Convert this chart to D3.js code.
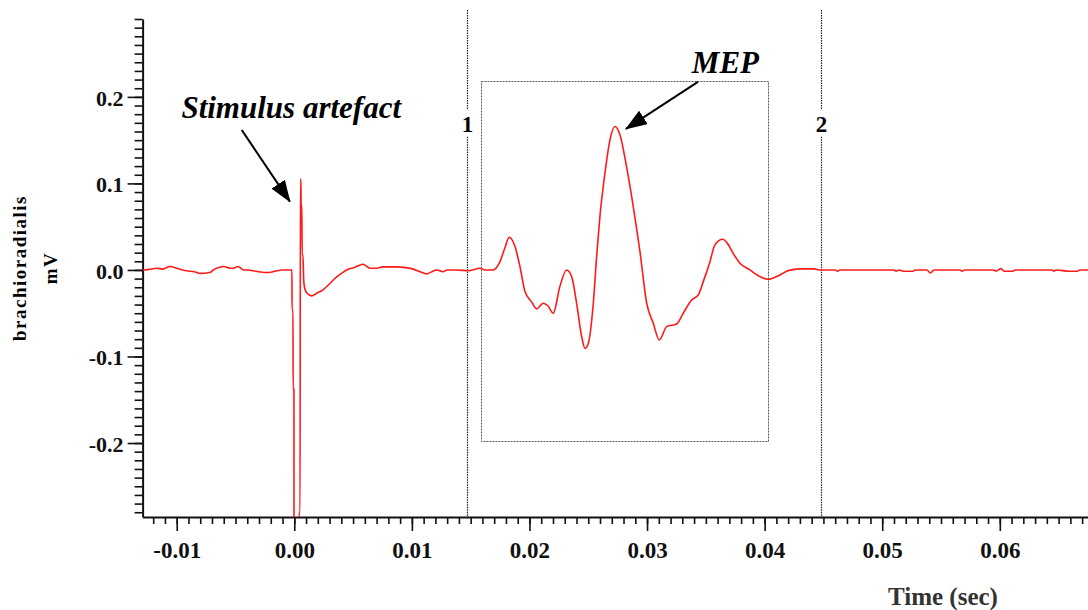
<!DOCTYPE html>
<html>
<head>
<meta charset="utf-8">
<script src="https://cdn.jsdelivr.net/npm/d3@7"></script>
<style>
  body { margin: 0; background: #fff; }
  svg { display: block; }
  text { font-family: "Liberation Serif", "Times New Roman", serif; }
  .tick text { font-weight: bold; fill: #111; }
  .axis path, .axis line { stroke: #111; }
</style>
</head>
<body>
<div id="chart"></div>
<script>
// signal (time in s, amplitude in mV)
var times = [
  -0.0129, -0.0128, -0.0122, -0.0117, -0.0112, -0.01057, -0.0100, -0.0095, -0.00915, -0.0085,
  -0.0080, -0.0072, -0.0069, -0.0066, -0.0060, -0.0055, -0.0052, -0.0048, -0.0043, -0.0039,
  -0.0035, -0.0030, -0.0024, -0.0018, -0.0015, -0.0010, -0.0006, -0.0002,
  -0.00019, -0.00011, -0.00010, -0.00003, -0.00002, 0.00040, 0.00041, 0.00049, 0.00052, 0.00056,
  0.00058, 0.00064, 0.00067, 0.00074, 0.00080, 0.00090, 0.00110, 0.00148, 0.00190, 0.00244,
  0.00300, 0.00360, 0.00410, 0.00446, 0.00516, 0.00582, 0.00644, 0.00700, 0.00754, 0.00871,
  0.00998, 0.01069, 0.01126, 0.01170, 0.01211, 0.01264, 0.01300, 0.01381, 0.01480, 0.01579,
  0.01620, 0.01692, 0.01749, 0.01790, 0.01828, 0.01877, 0.01919, 0.01962, 0.02019, 0.02061,
  0.02117, 0.02160, 0.02202, 0.02259, 0.02316, 0.02359, 0.02401, 0.02444, 0.02472, 0.02500,
  0.02543, 0.02571, 0.02599, 0.02642, 0.02684, 0.02727, 0.02770, 0.02826, 0.02883, 0.02940,
  0.02997, 0.03053, 0.03104, 0.03167, 0.03252, 0.03308, 0.03379, 0.03435, 0.03478, 0.03535,
  0.03577, 0.03643, 0.03682, 0.03733, 0.03790, 0.03875, 0.03960, 0.04031, 0.04130, 0.04200,
  0.04299, 0.04413, 0.04485,
  0.0460, 0.0462, 0.0464, 0.0510, 0.0512, 0.0514, 0.0518, 0.0526, 0.0528, 0.0538,
  0.0541, 0.0544, 0.0566, 0.0568, 0.0570, 0.0594, 0.0597, 0.0601, 0.0604, 0.0611,
  0.0613, 0.0644, 0.0646, 0.0648, 0.0659, 0.0666, 0.0668, 0.0676
];
var volts = [
  0.000, 0.000, 0.001, 0.002, 0.001, 0.004, 0.002, 0.000, -0.001, -0.002,
  -0.004, -0.003, 0.000, 0.002, 0.004, 0.002, 0.002, 0.004, 0.000, 0.000,
  -0.001, -0.002, -0.003, -0.002, -0.001, 0.000, 0.000, 0.000,
  -0.046, -0.046, -0.138, -0.138, -0.350, -0.350, -0.280, -0.280, 0.105, 0.105,
  0.075, 0.075, 0.017, 0.017, -0.012, -0.022, -0.027, -0.030, -0.027, -0.023,
  -0.016, -0.008, -0.003, 0.000, 0.003, 0.0066, 0.002, 0.002, 0.0035, 0.0035,
  0.0015, -0.002, -0.0046, -0.002, 0.000, -0.002, 0.000, 0.000, -0.001, 0.002,
  0.000, 0.000, 0.0096, 0.025, 0.0378, 0.027, 0.004, -0.025, -0.037, -0.045,
  -0.0385, -0.042, -0.050, -0.019, 0.000, -0.0077, -0.0385, -0.077, -0.0906, -0.085,
  -0.0385, 0.0154, 0.0616, 0.1118, 0.150, 0.1657, 0.156, 0.119, 0.073, 0.021,
  -0.0385, -0.0616, -0.081, -0.0655, -0.0624, -0.050, -0.0347, -0.029, -0.0135, 0.0096,
  0.029, 0.0355, 0.031, 0.019, 0.0077, 0.000, -0.0077, -0.0108, -0.0058, -0.0008,
  0.0012, 0.0012, 0.000,
  0.000, -0.0015, 0.000, 0.000, -0.0015, 0.000, -0.0015, -0.0015, 0.000, 0.000,
  -0.0035, 0.000, 0.000, -0.0015, 0.000, 0.000, -0.0012, 0.0015, -0.0015, -0.0015,
  0.000, 0.000, -0.0012, 0.000, -0.0015, -0.0015, 0.000, 0.000
];

var xTicks = [-0.01, 0.00, 0.01, 0.02, 0.03, 0.04, 0.05, 0.06];
var yTicks = [-0.2, -0.1, 0.0, 0.1, 0.2];
var cursorTimes = [0.01471, 0.04479];
var cursorLabels = ["1", "2"];
var boxTimes = [0.0159, 0.0403];
var boxVolts = [-0.1977, 0.2185];

// annotation anchors in data units
var noteText = ["Stimulus artefact", "MEP"];
var noteAt = [[-0.00960, 0.1757], [0.03381, 0.2277]];
var arrowFrom = [[-0.00447, 0.1618], [0.03433, 0.2173]];
var arrowTo = [[-0.00037, 0.0790], [0.02820, 0.1630]];

var width = 1088, height = 610;
var plotLeft = 142.6, plotRight = 1088, plotTop = 19, plotBottom = 517;
var serif = "'Liberation Serif', 'Times New Roman', serif";

var svg = d3.select("#chart").append("svg")
    .attr("width", width)
    .attr("height", height);

var x = d3.scaleLinear().domain([-0.0129, 0.0675]).range([plotLeft, plotRight]);
var y = d3.scaleLinear().domain([-0.2855, 0.29]).range([plotBottom, plotTop]);

var defs = svg.append("defs");
defs.append("clipPath").attr("id", "plot")
  .append("rect")
    .attr("x", plotLeft).attr("y", plotTop)
    .attr("width", plotRight - plotLeft).attr("height", plotBottom - plotTop);

defs.append("marker")
    .attr("id", "head")
    .attr("viewBox", "0 0 22 16")
    .attr("refX", 21).attr("refY", 8)
    .attr("markerWidth", 22).attr("markerHeight", 16)
    .attr("markerUnits", "userSpaceOnUse")
    .attr("orient", "auto")
  .append("path")
    .attr("d", "M0,0 L22,8 L0,16 z")
    .attr("fill", "#000");

// minor ticks
svg.append("g").attr("class", "axis")
    .attr("transform", `translate(0,${plotBottom})`)
    .call(d3.axisBottom(x).tickValues(d3.range(-12, 68).map(function(i){ return i / 1000; }))
      .tickSize(7).tickSizeOuter(0).tickFormat(""))
    .call(function(g){ g.select(".domain").remove(); })
    .selectAll("line").attr("stroke-width", 1.6);

svg.append("g").attr("class", "axis")
    .attr("transform", `translate(${plotLeft},0)`)
    .call(d3.axisLeft(y).tickValues(d3.range(-28, 30).map(function(i){ return i / 100; }))
      .tickSize(8).tickSizeOuter(0).tickFormat(""))
    .call(function(g){ g.select(".domain").remove(); })
    .selectAll("line").attr("stroke-width", 1.6);

// major ticks + labels
var xAxis = svg.append("g").attr("class", "axis")
    .attr("transform", `translate(0,${plotBottom})`)
    .call(d3.axisBottom(x).tickValues(xTicks).tickSize(14).tickSizeOuter(0)
      .tickFormat(d3.format(".2f")));
xAxis.attr("font-family", serif).attr("font-size", null);
xAxis.select(".domain").attr("stroke-width", 2);
xAxis.selectAll(".tick line").attr("stroke-width", 1.6);
xAxis.selectAll(".tick text")
    .attr("font-family", serif).attr("font-size", 23).attr("dy", "1.05em")
    .text(function(d){ return d3.format(".2f")(d).replace("−", "-"); });

var yAxis = svg.append("g").attr("class", "axis")
    .attr("transform", `translate(${plotLeft},0)`)
    .call(d3.axisLeft(y).tickValues(yTicks).tickSize(15).tickSizeOuter(0)
      .tickFormat(d3.format(".1f")));
yAxis.attr("font-family", serif).attr("font-size", null);
yAxis.select(".domain").attr("stroke-width", 2);
yAxis.selectAll(".tick line").attr("stroke-width", 1.6);
yAxis.selectAll(".tick text")
    .attr("font-family", serif).attr("font-size", 22).attr("x", -19).attr("dy", "0.38em")
    .text(function(d){ return d3.format(".1f")(d).replace("−", "-"); });

// cursors
cursorTimes.forEach(function(t, i){
  var cx = Math.round(x(t)) + 0.5;
  var ly = y(0.169);
  svg.append("line")
      .attr("x1", cx).attr("x2", cx).attr("y1", 10).attr("y2", ly - 14)
      .attr("stroke", "#222").attr("stroke-width", 1.2).attr("stroke-dasharray", "1.5,1");
  svg.append("line")
      .attr("x1", cx).attr("x2", cx).attr("y1", ly + 13).attr("y2", plotBottom)
      .attr("stroke", "#222").attr("stroke-width", 1.2).attr("stroke-dasharray", "1.5,1");
  svg.append("text")
      .attr("x", cx).attr("y", ly + 8)
      .attr("text-anchor", "middle")
      .attr("font-family", serif)
      .attr("font-size", 23).attr("font-weight", "bold")
      .text(cursorLabels[i]);
});

// MEP window
svg.append("rect")
    .attr("x", Math.round(x(boxTimes[0])) + 0.5)
    .attr("y", Math.round(y(boxVolts[1])) + 0.5)
    .attr("width", Math.round(x(boxTimes[1]) - x(boxTimes[0])))
    .attr("height", Math.round(y(boxVolts[0]) - y(boxVolts[1])))
    .attr("fill", "none").attr("stroke", "#444").attr("stroke-width", 0.9)
    .attr("stroke-dasharray", "2,1");

// trace
var line = d3.line()
    .curve(d3.curveMonotoneX)
    .x(function(d){ return x(d[0]); })
    .y(function(d){ return y(d[1]); });

svg.append("path")
    .datum(d3.zip(times, volts))
    .attr("clip-path", "url(#plot)")
    .attr("d", line)
    .attr("fill", "none")
    .attr("stroke", "#ff1a1a")
    .attr("stroke-width", 1.6);

// annotations
noteText.forEach(function(s, i){
  svg.append("text")
      .attr("x", x(noteAt[i][0])).attr("y", y(noteAt[i][1]))
      .attr("font-family", serif)
      .attr("font-size", 31).attr("font-weight", "bold").attr("font-style", "italic")
      .text(s);
  svg.append("line")
      .attr("x1", x(arrowFrom[i][0])).attr("y1", y(arrowFrom[i][1]))
      .attr("x2", x(arrowTo[i][0])).attr("y2", y(arrowTo[i][1]))
      .attr("stroke", "#000").attr("stroke-width", 2)
      .attr("marker-end", "url(#head)");
});

// axis titles
var yTitle = svg.append("g").attr("transform", "translate(26,268) rotate(-90)");
yTitle.append("text")
    .attr("text-anchor", "middle")
    .attr("font-family", serif)
    .attr("font-size", 19).attr("font-weight", "bold").attr("letter-spacing", 1.5)
    .text("brachioradialis");
yTitle.append("text")
    .attr("y", 31)
    .attr("text-anchor", "middle")
    .attr("font-family", serif)
    .attr("font-size", 19).attr("font-weight", "bold").attr("letter-spacing", 1.5)
    .text("mV");

svg.append("text")
    .attr("x", 943).attr("y", 605)
    .attr("text-anchor", "middle")
    .attr("font-family", serif)
    .attr("font-size", 25).attr("font-weight", "bold").attr("fill", "#333")
    .text("Time (sec)");
</script>
</body>
</html>
